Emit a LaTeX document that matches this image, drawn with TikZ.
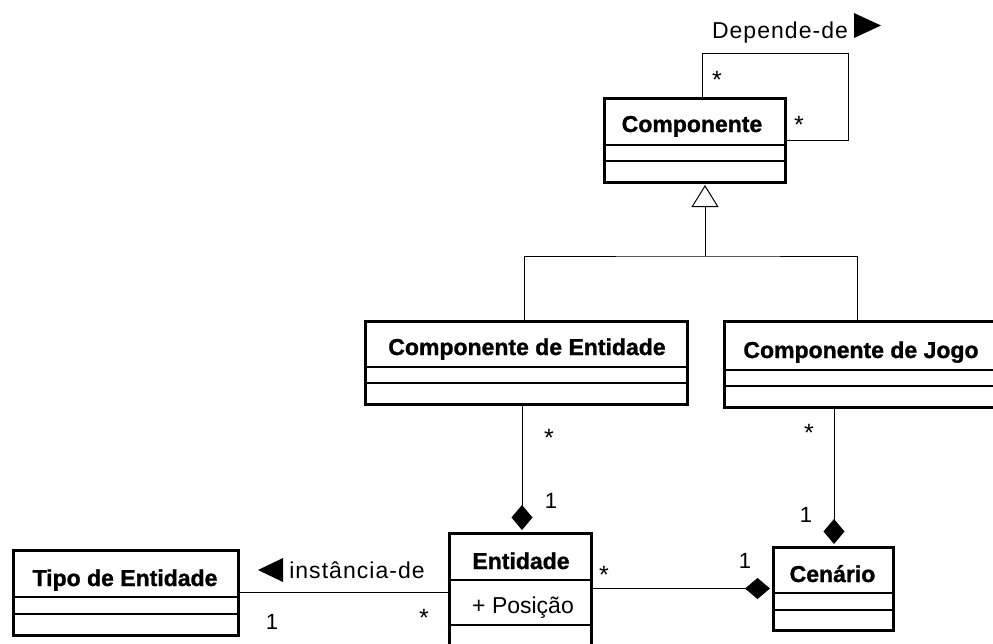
\documentclass[tikz,border=0pt]{standalone}
\usepackage{fontspec}
\setmainfont{Liberation Sans}
\newfontfamily\lblfont[LetterSpace=4.5]{Liberation Sans}
\newfontfamily\titlefont[FakeBold=1.2]{Liberation Sans Bold}
\usetikzlibrary{arrows.meta,calc}

\begin{document}
\begin{tikzpicture}[x=1pt,y=-1pt,
  cls/.style={draw, line width=3pt, rectangle, inner sep=0pt},
  title/.style={anchor=base, inner sep=0pt, font=\fontsize{23}{26}\titlefont},
  lbl/.style={anchor=base, inner sep=0pt, font=\fontsize{23}{26}\lblfont},
  mult/.style={anchor=base, inner sep=0pt, font=\fontsize{22}{25}\selectfont},
  star/.style={anchor=base, inner sep=0pt, font=\fontsize{25}{28}\selectfont},
  attr/.style={anchor=base west, inner sep=0pt, font=\fontsize{23}{26}\selectfont},
  sep/.style={line width=1.2pt},
  link/.style={line width=1pt},
  compos/.style={link, shorten >=1.5pt, -{Diamond[length=25pt,width=21pt]}},
  gener/.style={link, shorten >=1.5pt, -{Triangle[open,length=22pt,width=27pt,fill=white]}},
]
\fill[white] (0,0) rectangle (993,643);
\useasboundingbox (0,0) rectangle (993,643);

% classes
\node[cls, minimum width=181pt, minimum height=84pt] (comp) at (694.5,140) {};
\node[title] (compT) at (692,132) {Componente};
\draw[sep] (comp.west |- 0,145) -- (comp.east |- 0,145);
\draw[sep] (comp.west |- 0,161) -- (comp.east |- 0,161);

\node[cls, minimum width=322pt, minimum height=83pt] (ce) at (526,362.5) {};
\node[title] (ceT) at (527,355) {Componente de Entidade};
\draw[sep] (ce.west |- 0,367) -- (ce.east |- 0,367);
\draw[sep] (ce.west |- 0,383) -- (ce.east |- 0,383);

\node[cls, minimum width=275pt, minimum height=86pt] (cj) at (861.5,364) {};
\node[title] (cjT) at (861,358) {Componente de Jogo};
\draw[sep] (cj.west |- 0,370) -- (cj.east |- 0,370);
\draw[sep] (cj.west |- 0,386) -- (cj.east |- 0,386);

\node[cls, minimum width=142pt, minimum height=127pt] (ent) at (520,596.5) {};
\node[title] (entT) at (521,569) {Entidade};
\draw[sep] (ent.west |- 0,580) -- (ent.east |- 0,580);
\node[attr] (pos) at (472,613) {+ Posição};
\draw[sep] (ent.west |- 0,625) -- (ent.east |- 0,625);

\node[cls, minimum width=120pt, minimum height=83pt] (cen) at (833,588.5) {};
\node[title] (cenT) at (832.5,582) {Cenário};
\draw[sep] (cen.west |- 0,593) -- (cen.east |- 0,593);
\draw[sep] (cen.west |- 0,610) -- (cen.east |- 0,610);

\node[cls, minimum width=225pt, minimum height=85pt] (tipo) at (125.5,592.5) {};
\node[title] (tipoT) at (125,586) {Tipo de Entidade};
\draw[sep] (tipo.west |- 0,597) -- (tipo.east |- 0,597);
\draw[sep] (tipo.west |- 0,614) -- (tipo.east |- 0,614);

% self association of Componente
\draw[link] (comp.north -| 702,0) |- (848,53) |- (comp.east);
\node[lbl] (dep) at (780,38) {Depende-de};
\fill (854,13) -- (881,25.5) -- (854,38) -- cycle;
\node[star] (m1) at (717,88) {*};
\node[star] (m2) at (799,133) {*};

% generalization
\coordinate (hub) at (705,256);
\draw[gener] (hub) -- (comp.south -| hub);
\draw[link] (ce.north -| 524,0) |- (hub) -| (cj.north -| 857,0);

% compositions
\draw[compos] (ce.south -| 522,0) -- (ent.north -| 522,0);
\node[star] (m3) at (549,446) {*};
\node[mult] (m4) at (551,508) {1};

\draw[compos] (cj.south -| 834,0) -- (cen.north -| 834,0);
\node[star] (m5) at (809,441) {*};
\node[mult] (m6) at (806,522) {1};

\draw[compos] (cen.west -| ent.east) -- (cen.west);
\node[star] (m7) at (604,583) {*};
\node[mult] (m8) at (745,568) {1};

% instance association
\draw[link] (tipo.east) -- (tipo.east -| ent.west);
\node[lbl] (inst) at (357,578) {instância-de};
\fill (283,558) -- (258,570) -- (283,582) -- cycle;
\node[mult] (m9) at (272,629) {1};
\node[star] (m10) at (424,626) {*};
\end{tikzpicture}
\end{document}
